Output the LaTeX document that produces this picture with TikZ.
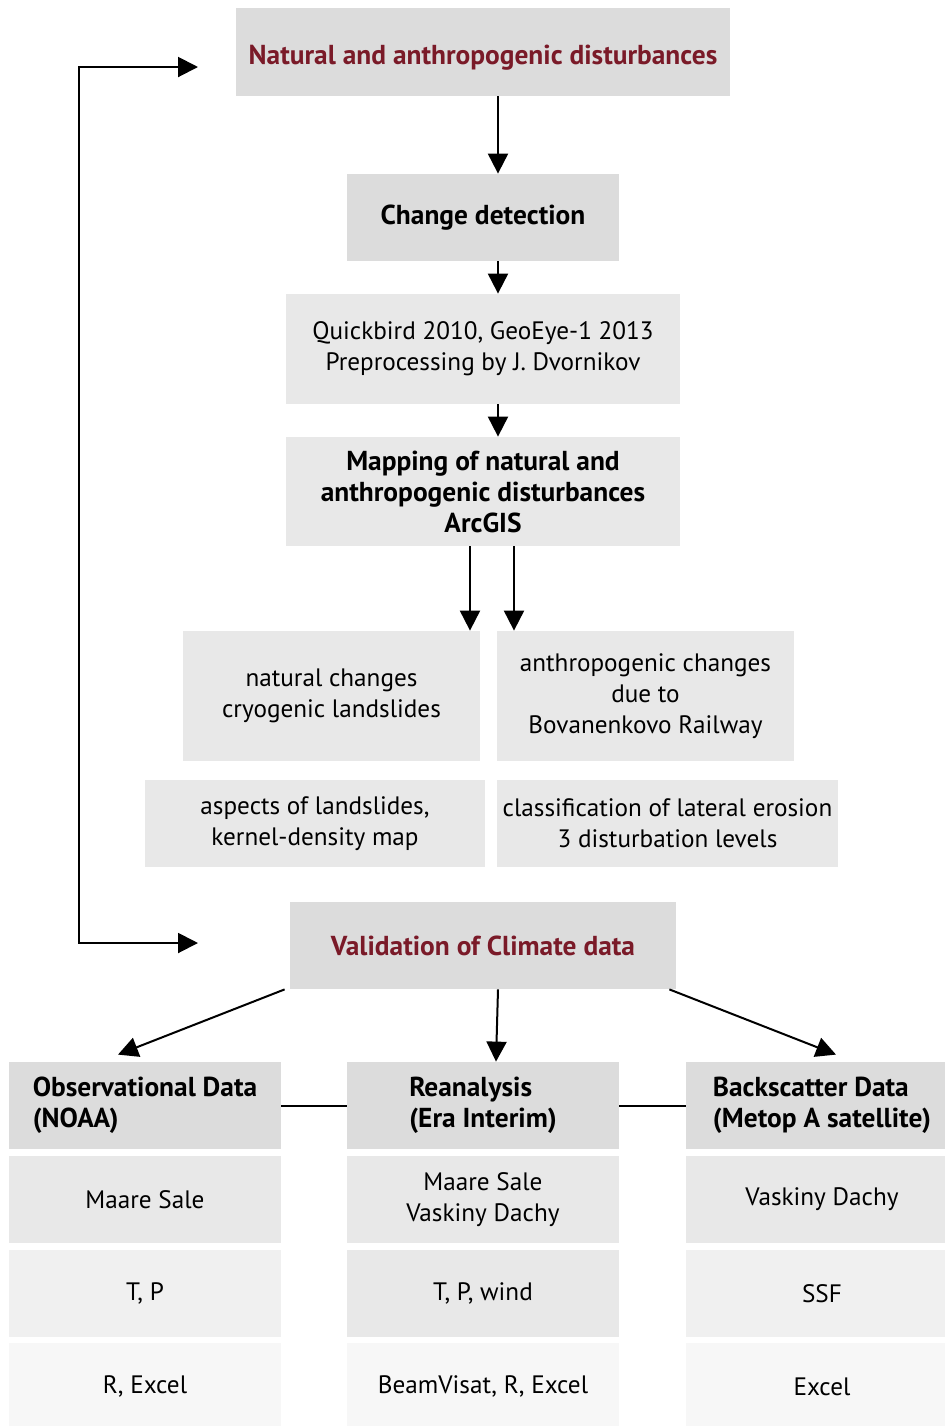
\documentclass[tikz,border=0pt]{standalone}
\usepackage{fontspec}
\setmainfont{PT Sans}
\usetikzlibrary{arrows.meta}
\definecolor{boxdark}{HTML}{DCDCDC}
\definecolor{boxmid}{HTML}{E8E8E8}
\definecolor{boxlight}{HTML}{F0F0F0}
\definecolor{boxpale}{HTML}{F7F7F7}
\definecolor{darkred}{HTML}{7A1A28}
\tikzset{
  box/.style={fill=boxmid, inner sep=0pt, align=center, font=\fontsize{12.6}{15.5}\selectfont},
  titlebox/.style={box, fill=boxdark, font=\bfseries\fontsize{13.7}{15.5}\selectfont},
  cell/.style={box, minimum width=136pt, minimum height=43.5pt},
  arr/.style={-{Triangle[length=10pt,width=10pt]}, line width=1pt},
  biarr/.style={{Triangle[length=10pt,width=10pt]}-{Triangle[length=10pt,width=10pt]}, line width=1pt},
  link/.style={line width=1pt}
}
\begin{document}
\begin{tikzpicture}[x=0.5pt, y=-0.5pt]
    \useasboundingbox (0,0) rectangle (944,1426);
    %% upper part: change detection
    \node[titlebox, text=darkred, minimum width=247pt, minimum height=44pt] (top) at (483,52) {\raisebox{-3pt}[\height][\depth]{Natural and anthropogenic disturbances}};
    \node[titlebox, minimum width=136pt, minimum height=43.5pt] (chg) at (483,217.5) {Change detection};
    \node[box, minimum width=197pt, minimum height=55pt] (qb) at (483,349) {Quickbird 2010, GeoEye-1 2013\\Preprocessing by J. Dvornikov};
    \node[box, font=\bfseries\fontsize{13.7}{15.5}\selectfont, minimum width=197pt, minimum height=54.5pt] (map) at (483,491.5) {Mapping of natural and\\anthropogenic disturbances\\ArcGIS};
    \node[box, minimum width=148.5pt, minimum height=65pt] (nat) at (331.5,696) {natural changes\\cryogenic landslides};
    \node[box, minimum width=148.5pt, minimum height=65pt] (anth) at (645.5,696) {anthropogenic changes\\due to\\Bovanenkovo Railway};
    \node[box, minimum width=170pt, minimum height=43.5pt] (asp) at (315,823.5) {aspects of landslides,\\kernel-density map};
    \node[box, minimum width=170.5pt, minimum height=43.5pt] (cls) at (667.5,823.5) {classification of lateral erosion\\3 disturbation levels};
    %% lower part: climate data
    \node[titlebox, text=darkred, minimum width=193pt, minimum height=43.5pt] (val) at (483,945.5) {Validation of Climate data};
    \node[cell, titlebox, align=left] (obs) at (145,1105.5) {Observational Data\\(NOAA)};
    \node[cell, titlebox, align=left] (rean) at (483,1105.5) {Reanalysis\\(Era Interim)};
    \node[cell, titlebox, align=left] (back) at (822,1105.5) {Backscatter Data\\(Metop A satellite)};
    \node[cell] (obsst) at (145,1199.5) {Maare Sale};
    \node[cell] (reanst) at (483,1199.5) {Maare Sale\\Vaskiny Dachy};
    \node[cell] (backst) at (822,1199.5) {Vaskiny Dachy};
    \node[cell, fill=boxlight] (obsvar) at (145,1293.5) {T, P};
    \node[cell] (reanvar) at (483,1293.5) {T, P, wind};
    \node[cell, fill=boxlight] (backvar) at (822,1293.5) {SSF};
    \node[cell, fill=boxpale] (obssw) at (145,1386.5) {R, Excel};
    \node[cell, fill=boxpale] (reansw) at (483,1386.5) {BeamVisat, R, Excel};
    \node[cell, fill=boxpale] (backsw) at (822,1386.5) {Excel};
    %% arrows
    \draw[arr] ([xshift=7.5pt]top.south) -- ([xshift=7.5pt]top.south |- chg.north);
    \draw[arr] ([xshift=7.5pt]chg.south) -- ([xshift=7.5pt]chg.south |- qb.north);
    \draw[arr] ([xshift=7.5pt]qb.south) -- ([xshift=7.5pt]qb.south |- map.north);
    \draw[arr] ([xshift=-6.5pt]map.south) -- ([xshift=-6.5pt]map.south |- nat.north);
    \draw[arr] ([xshift=15.5pt]map.south) -- ([xshift=15.5pt]map.south |- anth.north);
    %% feedback loop
    \coordinate (loopa) at (198,67);
    \coordinate (loopb) at (198,943);
    \draw[biarr] (loopa) -- (79,67) -- (79,943) -- (loopb);
    %% climate data
    \draw[arr] ([xshift=-2.5pt]val.south west) -- ([xshift=-13.5pt,yshift=3.5pt]obs.north);
    \draw[arr] ([xshift=7.5pt]val.south) -- ([xshift=6.5pt]rean.north);
    \draw[arr] ([xshift=-3.5pt]val.south east) -- ([xshift=7pt,yshift=3.5pt]back.north);
    \draw[link] (obs) -- (rean);
    \draw[link] (rean) -- (back);
\end{tikzpicture}
\end{document}
